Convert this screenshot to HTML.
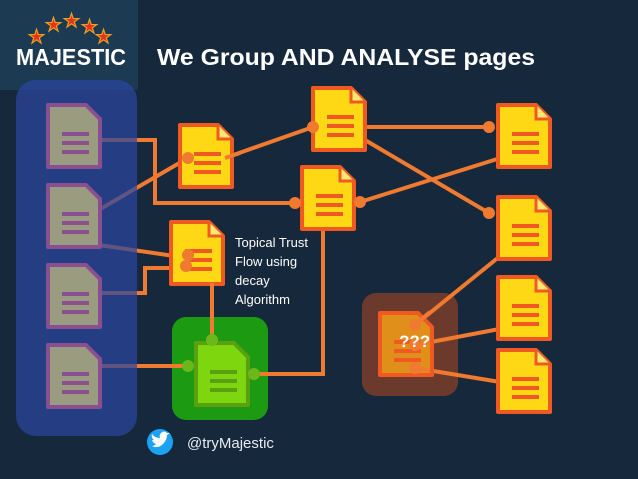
<!DOCTYPE html>
<html><head><style>
html,body{margin:0;padding:0;background:#16283c;}
svg{display:block;font-family:"Liberation Sans",sans-serif;}
</style></head><body>
<svg width="638" height="479" viewBox="0 0 638 479" xmlns="http://www.w3.org/2000/svg">
<defs>
<g id="ydoc"><path d="M0,0 h38 l14,14 v48 h-52 z" fill="#ffd815" stroke="#f05a22" stroke-width="4" stroke-linejoin="round"/><path d="M38,0 v14 h14" fill="#ffe870" stroke="#f05a22" stroke-width="3"/><path d="M14,29 h27 M14,38 h27 M14,47 h27" stroke="#f05a22" stroke-width="4"/></g>
<g id="gdoc"><path d="M0,0 h38 l14,14 v48 h-52 z" fill="#9a9c80" stroke="#8a4f90" stroke-width="4" stroke-linejoin="round"/><path d="M14,29 h27 M14,38 h27 M14,47 h27" stroke="#8a4f90" stroke-width="4"/></g>
<g id="grdoc"><path d="M0,0 h38 l14,14 v48 h-52 z" fill="#7ed60e" stroke="#5aa010" stroke-width="4" stroke-linejoin="round"/><path d="M14,29 h27 M14,38 h27 M14,47 h27" stroke="#5aa010" stroke-width="4"/></g>
<g id="bdoc"><path d="M0,0 h38 l14,14 v48 h-52 z" fill="#e0901a" stroke="#f05a22" stroke-width="4" stroke-linejoin="round"/><path d="M14,29 h27 M14,38 h27 M14,47 h27" stroke="#f05a22" stroke-width="4"/></g>
</defs>
<rect x="0" y="0" width="138" height="90" fill="#1c3a52"/>
<text x="16" y="65" font-size="23" font-weight="bold" fill="#fff" textLength="110" lengthAdjust="spacingAndGlyphs">MAJESTIC</text>
<g fill="#e8301c" stroke="#e8a020" stroke-width="1.2" font-size="19">
<text x="28" y="43">★</text><text x="45" y="31">★</text><text x="63" y="27">★</text><text x="81" y="33">★</text><text x="95" y="43">★</text></g>
<text x="157" y="65" font-size="23" font-weight="bold" fill="#fff" textLength="378" lengthAdjust="spacingAndGlyphs">We Group AND ANALYSE pages</text>

<rect x="172" y="317" width="96" height="103" rx="14" fill="#1c9a12"/>
<rect x="362" y="293" width="96" height="103" rx="14" fill="#6b3a2c"/>

<g stroke="#f07a30" stroke-width="4" fill="none">
<path d="M100,140 H155 V203 H295"/>
<path d="M78,222 L188,158"/>
<path d="M225,158 L313,127"/>
<path d="M365,127 H489"/>
<path d="M365,140 L489,213"/>
<path d="M360,202 L510,155"/>
<path d="M78,242 L188,258"/>
<path d="M100,293 H145 V268 H188"/>
<path d="M212,283 V340"/>
<path d="M100,366 H188"/>
<path d="M254,374 H323 V228"/>
<path d="M510,248 L415,325"/>
<path d="M510,327 L415,345"/>
<path d="M500,382 L415,368"/>
</g>
<rect x="16" y="80" width="121" height="356" rx="20" fill="#2a45a0" opacity="0.72"/>

<use href="#gdoc" x="48" y="105"/>
<use href="#gdoc" x="48" y="185"/>
<use href="#gdoc" x="48" y="265"/>
<use href="#gdoc" x="48" y="345"/>
<use href="#ydoc" x="180" y="125"/>
<use href="#ydoc" x="313" y="88"/>
<use href="#ydoc" x="302" y="167"/>
<use href="#ydoc" x="171" y="222"/>
<use href="#ydoc" x="498" y="105"/>
<use href="#ydoc" x="498" y="197"/>
<use href="#ydoc" x="498" y="277"/>
<use href="#ydoc" x="498" y="350"/>
<use href="#grdoc" x="196" y="343"/>
<use href="#bdoc" x="380" y="313"/>

<g stroke="#f07a30" stroke-width="4" fill="none">
<path d="M225,158 L240,153"/>
<path d="M212,283 V300"/>
<path d="M415,325 L430,312"/>
<path d="M415,345 L430,342"/>
<path d="M415,368 L430,370"/>
</g>
<g fill="#f07a30">
<circle cx="188" cy="158" r="6"/><circle cx="313" cy="127" r="6"/><circle cx="489" cy="127" r="6"/>
<circle cx="489" cy="213" r="6"/><circle cx="295" cy="203" r="6"/><circle cx="360" cy="202" r="6"/>
<circle cx="188" cy="255" r="6"/><circle cx="186" cy="266" r="6"/>
<circle cx="415" cy="325" r="6"/><circle cx="415" cy="345" r="6"/><circle cx="415" cy="368" r="6"/>
</g>
<g fill="#6cb81a"><circle cx="212" cy="340" r="6"/><circle cx="188" cy="366" r="6"/><circle cx="254" cy="374" r="6"/></g>
<text x="399" y="347" font-size="17" font-weight="bold" fill="#fff">???</text>

<g font-size="13" fill="#fff"><text x="235" y="247">Topical Trust</text><text x="235" y="266">Flow using</text><text x="235" y="285">decay</text><text x="235" y="304">Algorithm</text></g>

<circle cx="160" cy="442" r="13" fill="#1da1f2"/>
<path d="M152,446 q6,3 11,-2 q4,-4 4,-9 l3,-2 -3,0 q-3,-3 -6,0 q-2,2 -1,5 q-5,0 -8,-4 q-1,4 2,6 l-2,0 q1,3 4,4 q-2,2 -4,2z" fill="#fff"/>
<text x="187" y="448" font-size="15" fill="#e8ecf0">@tryMajestic</text>
</svg>
</body></html>
